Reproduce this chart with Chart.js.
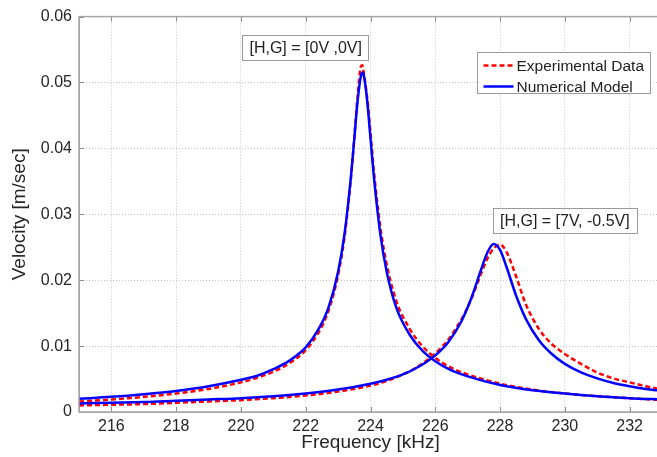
<!DOCTYPE html>
<html>
<head>
<meta charset="utf-8">
<script src="https://cdn.jsdelivr.net/npm/chart.js@4.4.0/dist/chart.umd.min.js"></script>
<style>
    html, body { margin: 0; padding: 0; background: #fff; overflow: hidden; }
</style>
</head>
<body>
<canvas id="myChart" width="664" height="457"></canvas>
<script>
// [H,G] = [0V ,0V] resonance
const freqLow = [215, 216, 217, 218, 219, 220, 220.5, 221, 221.5, 222, 222.4, 222.7, 223.0, 223.2, 223.4, 223.5, 223.6, 223.7, 223.75, 223.8, 223.9, 224.0, 224.1, 224.3, 224.5, 224.8, 225.2, 225.6, 226, 226.5, 227, 228, 229, 230, 231, 232, 233];
const modelLow = [0.0020, 0.0023, 0.0027, 0.0032, 0.0039, 0.0049, 0.0055, 0.0065, 0.0078, 0.0098, 0.0126, 0.0158, 0.0213, 0.0271, 0.0359, 0.0415, 0.0471, 0.0509, 0.0515, 0.0509, 0.0471, 0.0415, 0.0359, 0.0271, 0.0213, 0.0158, 0.0118, 0.0093, 0.0077, 0.0063, 0.0054, 0.0041, 0.0033, 0.0028, 0.0024, 0.0021, 0.0019];
const expLow = [0.0016, 0.0019, 0.0023, 0.0028, 0.0035, 0.0045, 0.0052, 0.0061, 0.0074, 0.0094, 0.0121, 0.0153, 0.0208, 0.0266, 0.0357, 0.0416, 0.0478, 0.0524, 0.0526, 0.0512, 0.0476, 0.0424, 0.0368, 0.0282, 0.0224, 0.0168, 0.0127, 0.0100, 0.0082, 0.0067, 0.0057, 0.0043, 0.0034, 0.0028, 0.0024, 0.0021, 0.0018];

// [H,G] = [7V, -0.5V] resonance
const freqHigh = [215, 216, 217, 218, 219, 220, 221, 222, 223, 224, 224.5, 225, 225.5, 226, 226.4, 226.8, 227.1, 227.4, 227.6, 227.8, 228.0, 228.2, 228.5, 228.8, 229.2, 229.6, 230, 230.5, 231, 231.5, 232, 232.5, 233];
const modelHigh = [0.0013, 0.0014, 0.0015, 0.0017, 0.0019, 0.0021, 0.0024, 0.0028, 0.0034, 0.0043, 0.0049, 0.0057, 0.0069, 0.0086, 0.0106, 0.0137, 0.0171, 0.0214, 0.0241, 0.0255, 0.0246, 0.0220, 0.0176, 0.0141, 0.0109, 0.0088, 0.0073, 0.0060, 0.0051, 0.0044, 0.0039, 0.0035, 0.0032];
const expHigh = [0.0010, 0.0011, 0.0012, 0.0014, 0.0016, 0.0018, 0.0021, 0.0025, 0.0031, 0.0040, 0.0047, 0.0057, 0.0070, 0.0089, 0.0110, 0.0140, 0.0170, 0.0208, 0.0232, 0.0248, 0.0254, 0.0243, 0.0205, 0.0163, 0.0126, 0.0103, 0.0088, 0.0073, 0.0060, 0.0051, 0.0045, 0.0039, 0.0034];

const yTicks = [0, 0.01, 0.02, 0.03, 0.04, 0.05, 0.06];
const yTickLabels = ['0', '0.01', '0.02', '0.03', '0.04', '0.05', '0.06'];
const xTicks = [216, 218, 220, 222, 224, 226, 228, 230, 232];

const boxLabels = ['[H,G] = [0V ,0V]', '[H,G] = [7V, -0.5V]'];
const boxFreq = [222, 230];
const boxVel = [0.0553, 0.0290];

const FONT = '"Liberation Sans", Arial, sans-serif';

function toPoints(xs, ys) {
    return xs.map((x, i) => ({ x: x, y: ys[i] }));
}

const framePlugin = {
    id: 'frame',
    afterDatasetsDraw(chart) {
        const { ctx, chartArea: a, scales } = chart;
        ctx.save();

        // small inward tick marks
        ctx.strokeStyle = '#8c8c8c';
        ctx.lineWidth = 1;
        ctx.beginPath();
        xTicks.forEach(v => {
            const px = Math.round(scales.x.getPixelForValue(v)) + 0.5;
            ctx.moveTo(px, a.bottom); ctx.lineTo(px, a.bottom - 5);
            ctx.moveTo(px, a.top); ctx.lineTo(px, a.top + 5);
        });
        yTicks.forEach(v => {
            const py = Math.round(scales.y.getPixelForValue(v)) + 0.5;
            ctx.moveTo(a.left, py); ctx.lineTo(a.left + 5, py);
        });
        ctx.stroke();

        // box around the axes
        ctx.strokeStyle = '#a6a6a6';
        ctx.lineWidth = 1.5;
        ctx.strokeRect(a.left, a.top, a.right - a.left, a.bottom - a.top);

        // annotation boxes
        ctx.font = '16px ' + FONT;
        ctx.textAlign = 'center';
        ctx.textBaseline = 'middle';
        boxLabels.forEach((t, i) => {
            const cx = scales.x.getPixelForValue(boxFreq[i]);
            const cy = scales.y.getPixelForValue(boxVel[i]);
            const w = ctx.measureText(t).width + 14;
            const h = 25;
            ctx.fillStyle = '#fff';
            ctx.fillRect(cx - w / 2, cy - h / 2, w, h);
            ctx.strokeStyle = '#9a9a9a';
            ctx.lineWidth = 1;
            ctx.strokeRect(Math.round(cx - w / 2) + 0.5, Math.round(cy - h / 2) + 0.5, Math.round(w), h);
            ctx.fillStyle = '#222';
            ctx.fillText(t, cx, cy + 1);
        });

        // legend
        const lx = Math.round(a.right - 185) + 0.5;
        const ly = Math.round(a.top + 35) + 0.5;
        ctx.fillStyle = '#fff';
        ctx.fillRect(lx, ly, 173, 41);
        ctx.strokeStyle = '#9a9a9a';
        ctx.lineWidth = 1;
        ctx.strokeRect(lx, ly, 173, 41);
        ctx.font = '15.5px ' + FONT;
        ctx.textAlign = 'left';
        chart.data.datasets.slice(0, 2).forEach((ds, i) => {
            const y = ly + 13 + i * 21;
            ctx.strokeStyle = ds.borderColor;
            ctx.lineWidth = 2.5;
            ctx.setLineDash(ds.borderDash || []);
            ctx.beginPath();
            ctx.moveTo(lx + 6, y);
            ctx.lineTo(lx + 36, y);
            ctx.stroke();
            ctx.setLineDash([]);
            ctx.fillStyle = '#222';
            ctx.fillText(ds.label, lx + 39, y + 1);
        });

        ctx.restore();
    }
};

function initChart() {
    const ctx = document.getElementById('myChart').getContext('2d');
    const myChart = new Chart(ctx, {
        type: 'line',
        data: {
            datasets: [{
                label: 'Experimental Data',
                data: toPoints(freqLow, expLow),
                borderColor: '#ff0000',
                borderDash: [5, 3],
                order: 1
            }, {
                label: 'Numerical Model',
                data: toPoints(freqLow, modelLow),
                borderColor: '#0000ff',
                order: 0
            }, {
                label: 'Experimental Data',
                data: toPoints(freqHigh, expHigh),
                borderColor: '#ff0000',
                borderDash: [5, 3],
                order: 1
            }, {
                label: 'Numerical Model',
                data: toPoints(freqHigh, modelHigh),
                borderColor: '#0000ff',
                order: 0
            }]
        },
        options: {
            responsive: false,
            animation: false,
            devicePixelRatio: 1,
            layout: { padding: { top: 14, right: 2, left: 0, bottom: 0 } },
            elements: {
                point: { radius: 0 },
                line: { borderWidth: 2.5, cubicInterpolationMode: 'monotone', fill: false }
            },
            plugins: {
                legend: { display: false },
                tooltip: { enabled: false }
            },
            scales: {
                x: {
                    type: 'linear',
                    min: 215,
                    max: 233,
                    afterBuildTicks: s => { s.ticks = xTicks.map(v => ({ value: v })); },
                    afterFit: s => { s.height = 45; },
                    ticks: { font: { family: FONT, size: 16 }, color: '#262626', padding: 5, maxRotation: 0 },
                    grid: { color: '#c4c4c4', drawTicks: false },
                    border: { color: '#a6a6a6', dash: [1, 2] },
                    title: {
                        display: true,
                        text: 'Frequency [kHz]',
                        font: { family: FONT, size: 19 },
                        color: '#262626',
                        padding: { top: 0, bottom: 3 }
                    }
                },
                y: {
                    type: 'linear',
                    min: 0,
                    max: 0.06,
                    afterBuildTicks: s => { s.ticks = yTicks.map(v => ({ value: v })); },
                    afterFit: s => { s.width = 79; },
                    ticks: {
                        font: { family: FONT, size: 16 },
                        color: '#262626',
                        padding: 7,
                        callback: (v, i) => yTickLabels[i]
                    },
                    grid: { color: '#c4c4c4', drawTicks: false },
                    border: { color: '#a6a6a6', dash: [1, 2] },
                    title: {
                        display: true,
                        text: 'Velocity [m/sec]',
                        font: { family: FONT, size: 19 },
                        color: '#262626',
                        padding: { top: 8, bottom: 0 }
                    }
                }
            }
        },
        plugins: [framePlugin]
    });
}

initChart();
</script>
</body>
</html>
